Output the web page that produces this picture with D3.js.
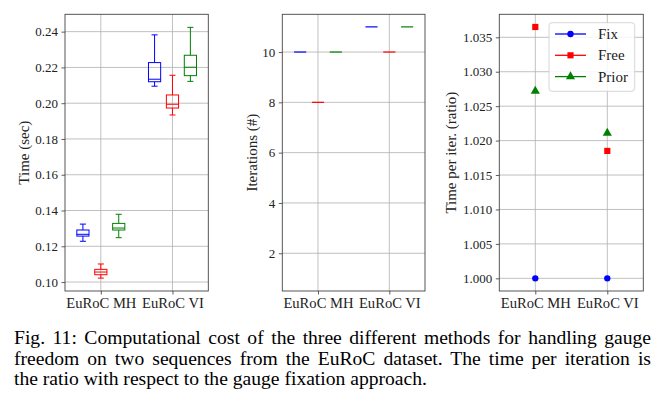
<!DOCTYPE html>
<meta charset="utf-8">
<script src="https://d3js.org/d3.v7.min.js"></script>
<style>
  body { margin: 0; background: #fff; }
  #wrap { position: relative; width: 665px; height: 403px; }
  .cap { position: absolute; left: 14px; width: 637px; font-family: "Liberation Serif", serif;
         font-size: 19.6px; line-height: 20.5px; color: #000; text-align: justify; text-align-last: justify; white-space: nowrap; }
  .cap.last { text-align-last: left; }
</style>
<div id="wrap">
  <div id="my_dataviz"></div>
</div>

<script>

// categories and methods
var categories = ["EuRoC MH", "EuRoC VI"];
var methods = ["Fix", "Free", "Prior"];
var colors = ["#0000ff", "#ff0000", "#008000"];

// time boxplots [whisker low, q1, median, q3, whisker high] per category
var fixTime   = [[0.1228, 0.1257, 0.1267, 0.1291, 0.1324], [0.2095, 0.2120, 0.2134, 0.2227, 0.2382]];
var freeTime  = [[0.1022, 0.1041, 0.1056, 0.1071, 0.1101], [0.1934, 0.1973, 0.1994, 0.2046, 0.2156]];
var priorTime = [[0.1248, 0.1291, 0.1302, 0.1328, 0.1379], [0.2122, 0.2154, 0.2201, 0.2268, 0.2424]];

// iterations (constant per sequence)
var fixIter   = [10, 11];
var freeIter  = [8, 10];
var priorIter = [10, 11];

// time per iteration ratio
var fixRatio   = [1.000, 1.000];
var freeRatio  = [1.0365, 1.0185];
var priorRatio = [1.0272, 1.0211];

// tick labels
var timeTicks  = [0.10, 0.12, 0.14, 0.16, 0.18, 0.20, 0.22, 0.24];
var iterTicks  = [2, 4, 6, 8, 10];
var ratioTicks = [1.000, 1.005, 1.010, 1.015, 1.020, 1.025, 1.030, 1.035];

var captionLines = [
  "Fig. 11: Computational cost of the three different methods for handling gauge",
  "freedom on two sequences from the EuRoC dataset. The time per iteration is",
  "the ratio with respect to the gauge fixation approach."
];

var timeSets  = [fixTime, freeTime, priorTime];
var iterSets  = [fixIter, freeIter, priorIter];
var ratioSets = [fixRatio, freeRatio, priorRatio];
var offsets = [-0.25, 0, 0.25];
var boxW = 0.17;

var W = 665, H = 403;
var plotTop = 14.3, plotBottom = 291;
var font = "'Liberation Serif', 'DejaVu Serif', serif";

var svg = d3.select("#my_dataviz")
  .append("svg")
    .attr("width", W)
    .attr("height", H)
    .style("position", "absolute")
    .style("left", 0).style("top", 0);

function makePanel(left, right, ydom, ticks, fmt, label, labelX) {
  var x = d3.scaleLinear().domain([0.5, 2.5]).range([left, right]);
  var y = d3.scaleLinear().domain(ydom).range([plotBottom, plotTop]);
  var g = svg.append("g");

  // grid
  g.selectAll(".hg").data(ticks).enter().append("line")
    .attr("x1", left).attr("x2", right)
    .attr("y1", function(d){ return y(d) }).attr("y2", function(d){ return y(d) })
    .attr("stroke", "#b0b0b0").attr("stroke-width", 0.8);
  g.selectAll(".vg").data([1, 2]).enter().append("line")
    .attr("x1", function(d){ return x(d) }).attr("x2", function(d){ return x(d) })
    .attr("y1", plotTop).attr("y2", plotBottom)
    .attr("stroke", "#b0b0b0").attr("stroke-width", 0.8);

  // axes
  var ya = g.append("g").attr("transform", "translate(" + left + ",0)")
    .call(d3.axisLeft(y).tickValues(ticks).tickFormat(fmt).tickSize(3.5).tickPadding(3.5));
  var xa = g.append("g").attr("transform", "translate(0," + plotBottom + ")")
    .call(d3.axisBottom(x).tickValues([1, 2]).tickFormat(function(d){ return categories[d - 1] }).tickSize(3.5).tickPadding(3));
  [ya, xa].forEach(function(a){
    a.select(".domain").remove();
    a.selectAll("line").attr("stroke", "#333").attr("stroke-width", 0.8);
    a.selectAll("text").attr("fill", "#222").style("font-family", font);
  });
  ya.selectAll("text").style("font-size", "13px");
  xa.selectAll("text").style("font-size", "14.6px");

  g.append("text")
    .attr("transform", "translate(" + labelX + "," + ((plotTop + plotBottom) / 2) + ")rotate(-90)")
    .attr("text-anchor", "middle")
    .attr("fill", "#222")
    .style("font-family", font).style("font-size", "15px")
    .text(label);

  return {g: g, x: x, y: y, left: left, right: right};
}

function frame(p) {
  p.g.append("rect")
    .attr("x", p.left).attr("y", plotTop)
    .attr("width", p.right - p.left).attr("height", plotBottom - plotTop)
    .attr("fill", "none").attr("stroke", "#444").attr("stroke-width", 0.9);
}

// ---------- Panel 1: time boxplots ----------
var p1 = makePanel(65, 208.3, [0.095, 0.2497], timeTicks, d3.format(".2f"), "Time (sec)", 29);
timeSets.forEach(function(set, m) {
  set.forEach(function(s, c) {
    var cx = c + 1 + offsets[m];
    var x0 = p1.x(cx - boxW / 2), x1 = p1.x(cx + boxW / 2), xm = p1.x(cx);
    var cw = (x1 - x0) / 2;
    var bg = p1.g.append("g").attr("stroke", colors[m]).attr("stroke-width", 1).attr("fill", "none");
    bg.append("line").attr("x1", xm).attr("x2", xm).attr("y1", p1.y(s[0])).attr("y2", p1.y(s[1]));
    bg.append("line").attr("x1", xm).attr("x2", xm).attr("y1", p1.y(s[3])).attr("y2", p1.y(s[4]));
    bg.append("line").attr("x1", xm - cw / 2).attr("x2", xm + cw / 2).attr("y1", p1.y(s[0])).attr("y2", p1.y(s[0]));
    bg.append("line").attr("x1", xm - cw / 2).attr("x2", xm + cw / 2).attr("y1", p1.y(s[4])).attr("y2", p1.y(s[4]));
    bg.append("rect").attr("x", x0).attr("y", p1.y(s[3])).attr("width", x1 - x0).attr("height", p1.y(s[1]) - p1.y(s[3]));
    bg.append("line").attr("x1", x0).attr("x2", x1).attr("y1", p1.y(s[2])).attr("y2", p1.y(s[2]));
  });
});
frame(p1);

// ---------- Panel 2: iterations ----------
var p2 = makePanel(282.3, 425, [0.5, 11.5], iterTicks, d3.format("d"), "Iterations (#)", 257);
iterSets.forEach(function(set, m) {
  set.forEach(function(v, c) {
    var cx = c + 1 + offsets[m];
    p2.g.append("line")
      .attr("x1", p2.x(cx - boxW / 2)).attr("x2", p2.x(cx + boxW / 2))
      .attr("y1", p2.y(v)).attr("y2", p2.y(v))
      .attr("stroke", colors[m]).attr("stroke-width", 1.2);
  });
});
frame(p2);

// ---------- Panel 3: ratio ----------
var p3 = makePanel(499.3, 643.3, [0.99816, 1.03834], ratioTicks, d3.format(".3f"), "Time per iter. (ratio)", 456);
var symbols = [d3.symbolCircle, d3.symbolSquare, d3.symbolTriangle];
var symSizes = [32, 38, 36];
ratioSets.forEach(function(set, m) {
  p3.g.selectAll(".pt" + m).data(set).enter().append("path")
    .attr("d", d3.symbol().type(symbols[m]).size(symSizes[m]))
    .attr("transform", function(d, i){ return "translate(" + p3.x(i + 1) + "," + p3.y(d) + ")" })
    .attr("fill", colors[m]);
});
frame(p3);

// legend
var leg = p3.g.append("g").attr("transform", "translate(549,22.7)");
leg.append("rect").attr("width", 85.7).attr("height", 68.6).attr("rx", 3)
  .attr("fill", "#fff").attr("fill-opacity", 0.85).attr("stroke", "#ccc").attr("stroke-width", 0.8);
methods.forEach(function(name, i) {
  var yy = 11.3 + i * 21.3;
  leg.append("line").attr("x1", 6).attr("x2", 37).attr("y1", yy).attr("y2", yy)
    .attr("stroke", colors[i]).attr("stroke-width", 1.3);
  leg.append("path").attr("d", d3.symbol().type(symbols[i]).size(symSizes[i]))
    .attr("transform", "translate(21.5," + yy + ")").attr("fill", colors[i]);
  leg.append("text").attr("x", 49).attr("y", yy + 5)
    .attr("fill", "#222").style("font-family", font).style("font-size", "15px")
    .text(name);
});

// caption
captionLines.forEach(function(t, i) {
  d3.select("#wrap").append("div")
    .attr("class", "cap" + (i === captionLines.length - 1 ? " last" : ""))
    .style("top", (328 + i * 20.5) + "px")
    .text(t);
});

</script>
